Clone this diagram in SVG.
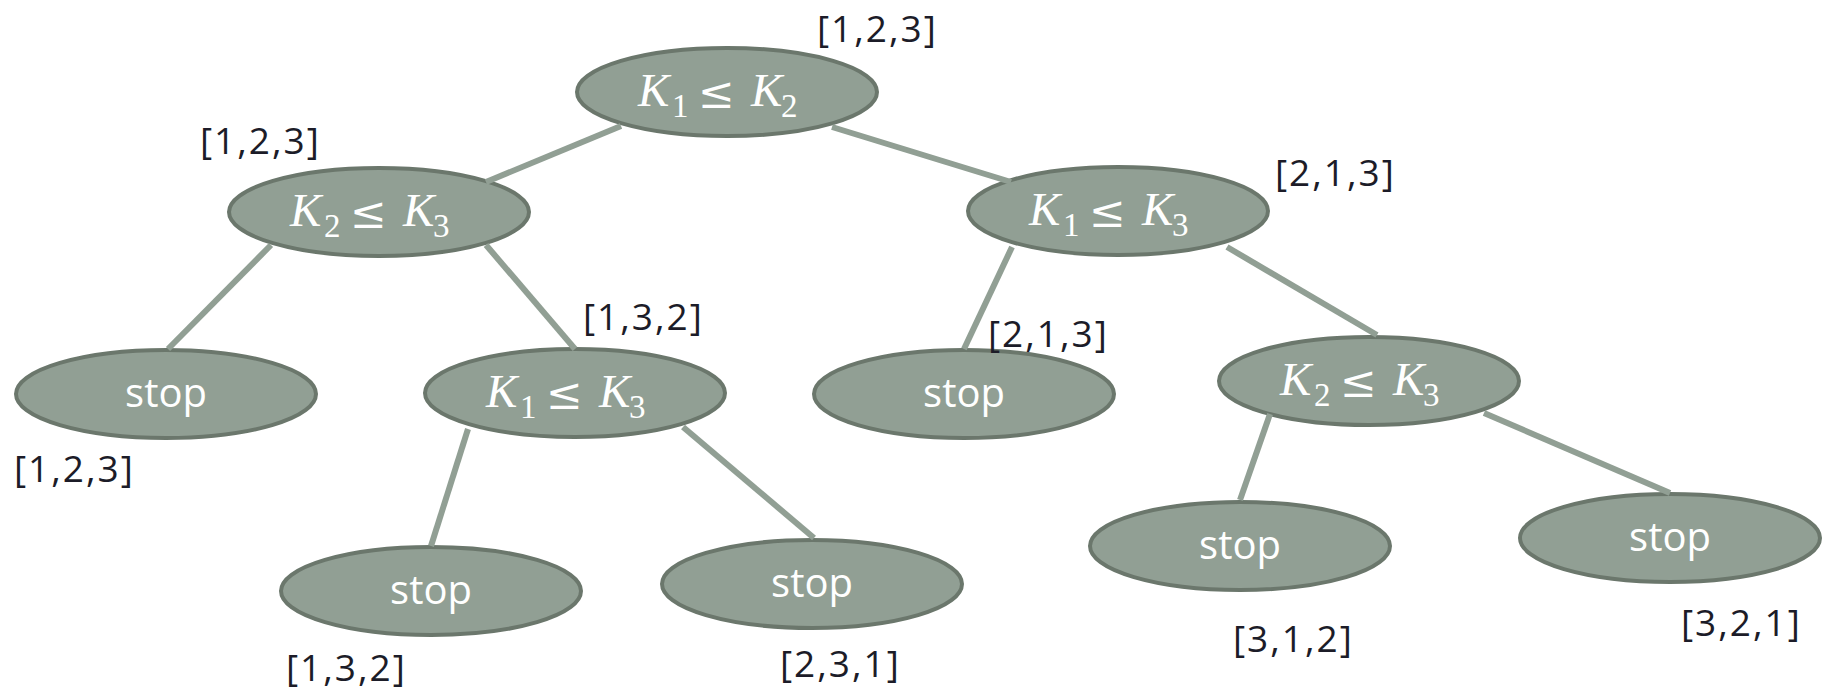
<svg xmlns="http://www.w3.org/2000/svg" width="1841" height="693" viewBox="0 0 1841 693">
<style>
.nd{fill:#919f94;stroke:#6b776c;stroke-width:4}
.cn{stroke:#919f94;stroke-width:6;fill:none}
.st{font-family:"Open Sans","Liberation Sans",sans-serif;font-size:40px;fill:#ffffff;text-anchor:middle}
.mt{font-family:"Liberation Serif","DejaVu Serif",serif;font-size:47px;fill:#ffffff}
.mt .k{font-style:italic}
.mt .s{font-size:33px}
.mt .le{font-family:"DejaVu Serif",serif;font-size:44px}
.lb{font-family:"Open Sans","Liberation Sans",sans-serif;font-size:37px;letter-spacing:2px;fill:#1c1c28}
</style>
<rect width="1841" height="693" fill="#ffffff"/>
<g id="nodes">
<g id="n-root"><ellipse class="nd" cx="727" cy="92" rx="150" ry="44"/>
<text class="mt" y="106"><tspan class="k" x="638">K</tspan><tspan class="s" x="672" y="117">1</tspan><tspan class="le" x="698" y="108">≤</tspan><tspan class="k" x="751" y="106">K</tspan><tspan class="s" x="781" y="117">2</tspan></text></g>
<g id="n-l1"><ellipse class="nd" cx="379" cy="212" rx="150" ry="44"/>
<text class="mt" y="226"><tspan class="k" x="290">K</tspan><tspan class="s" x="324" y="237">2</tspan><tspan class="le" x="350" y="228">≤</tspan><tspan class="k" x="403" y="226">K</tspan><tspan class="s" x="433" y="237">3</tspan></text></g>
<g id="n-r1"><ellipse class="nd" cx="1118" cy="211" rx="150" ry="44"/>
<text class="mt" y="225"><tspan class="k" x="1029">K</tspan><tspan class="s" x="1063" y="236">1</tspan><tspan class="le" x="1089" y="227">≤</tspan><tspan class="k" x="1142" y="225">K</tspan><tspan class="s" x="1172" y="236">3</tspan></text></g>
<g id="n-stop1"><ellipse class="nd" cx="166" cy="394" rx="150" ry="44"/><text class="st" x="166" y="407">stop</text></g>
<g id="n-mid"><ellipse class="nd" cx="575" cy="393" rx="150" ry="44"/>
<text class="mt" y="407"><tspan class="k" x="486">K</tspan><tspan class="s" x="520" y="418">1</tspan><tspan class="le" x="546" y="409">≤</tspan><tspan class="k" x="599" y="407">K</tspan><tspan class="s" x="629" y="418">3</tspan></text></g>
<g id="n-stop2"><ellipse class="nd" cx="964" cy="394" rx="150" ry="44"/><text class="st" x="964" y="407">stop</text></g>
<g id="n-r2"><ellipse class="nd" cx="1369" cy="381" rx="150" ry="44"/>
<text class="mt" y="395"><tspan class="k" x="1280">K</tspan><tspan class="s" x="1314" y="406">2</tspan><tspan class="le" x="1340" y="397">≤</tspan><tspan class="k" x="1393" y="395">K</tspan><tspan class="s" x="1423" y="406">3</tspan></text></g>
<g id="n-stop3"><ellipse class="nd" cx="431" cy="591" rx="150" ry="44"/><text class="st" x="431" y="604">stop</text></g>
<g id="n-stop4"><ellipse class="nd" cx="812" cy="584" rx="150" ry="44"/><text class="st" x="812" y="597">stop</text></g>
<g id="n-stop5"><ellipse class="nd" cx="1240" cy="546" rx="150" ry="44"/><text class="st" x="1240" y="559">stop</text></g>
<g id="n-stop6"><ellipse class="nd" cx="1670" cy="538" rx="150" ry="44"/><text class="st" x="1670" y="551">stop</text></g>
</g>
<g id="connectors">
<line class="cn" x1="621" y1="126" x2="486" y2="182"/>
<line class="cn" x1="832" y1="127" x2="1011" y2="182"/>
<line class="cn" x1="271" y1="245" x2="168" y2="349"/>
<line class="cn" x1="486" y1="245" x2="575" y2="349"/>
<line class="cn" x1="468" y1="429" x2="431" y2="546"/>
<line class="cn" x1="683" y1="427" x2="814" y2="538"/>
<line class="cn" x1="1012" y1="247" x2="964" y2="349"/>
<line class="cn" x1="1227" y1="247" x2="1377" y2="335"/>
<line class="cn" x1="1270" y1="414" x2="1240" y2="500"/>
<line class="cn" x1="1484" y1="413" x2="1670" y2="493"/>
</g>
<g id="labels">
<text class="lb" x="817" y="42">[1,2,3]</text>
<text class="lb" x="200" y="154">[1,2,3]</text>
<text class="lb" x="1275" y="186">[2,1,3]</text>
<text class="lb" x="583" y="330">[1,3,2]</text>
<text class="lb" x="988" y="347">[2,1,3]</text>
<text class="lb" x="14" y="482">[1,2,3]</text>
<text class="lb" x="286" y="681">[1,3,2]</text>
<text class="lb" x="780" y="677">[2,3,1]</text>
<text class="lb" x="1233" y="652">[3,1,2]</text>
<text class="lb" x="1681" y="636">[3,2,1]</text>
</g>
</svg>
